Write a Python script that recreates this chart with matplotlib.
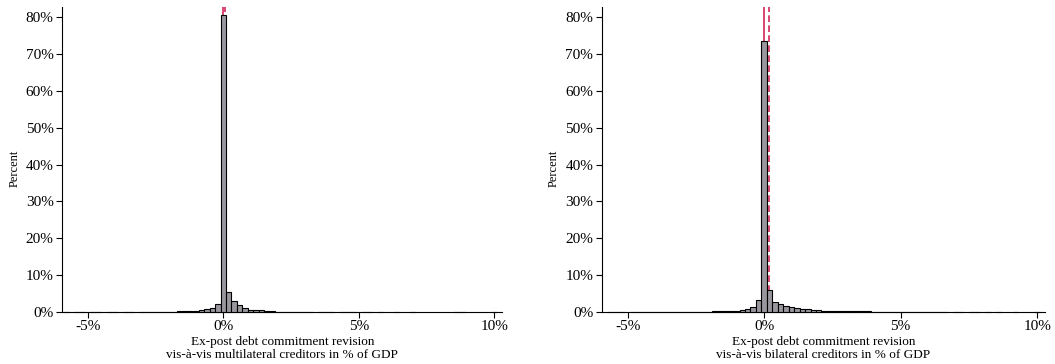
import numpy as np
import matplotlib
matplotlib.use('Agg')
import matplotlib.pyplot as plt
from matplotlib.ticker import FuncFormatter

plt.rcParams['font.family'] = ['Liberation Serif', 'DejaVu Serif']

# histogram bins: width 0.2 pp of GDP, centred on -5.8 ... 10.2
bin_width = 0.2
first_center = -5.8

# share of observations (%) per bin, multilateral creditors
multi_pct = [
    0.1, 0.0, 0.1, 0.1, 0.0, 0.1, 0.1, 0.0, 0.1, 0.1,          # -5.8 .. -4.0
    0.0, 0.1, 0.1, 0.0, 0.1, 0.1, 0.1, 0.1, 0.1, 0.1,          # -3.8 .. -2.0
    0.12, 0.14, 0.16, 0.2, 0.3, 0.45, 0.7, 1.2, 2.3,           # -1.8 .. -0.2
    80.5,                                                      # 0.0
    5.4, 3.0, 1.9, 1.0, 0.6, 0.45, 0.5, 0.3, 0.15, 0.12,       # 0.2 .. 2.0
    0.1, 0.1, 0.1, 0.1, 0.1, 0.1, 0.0, 0.1, 0.1, 0.1,          # 2.2 .. 4.0
    0.0, 0.1, 0.1, 0.1, 0.0, 0.1, 0.1, 0.0, 0.1, 0.0,          # 4.2 .. 6.0
    0.0, 0.1, 0.0, 0.0, 0.1, 0.0, 0.0, 0.0, 0.0, 0.0,          # 6.2 .. 8.0
    0.0, 0.0, 0.1, 0.1, 0.0, 0.0, 0.0, 0.0, 0.0, 0.1,          # 8.2 .. 10.0
    0.0,                                                       # 10.2
]

# share of observations (%) per bin, bilateral creditors
bi_pct = [
    0.0, 0.1, 0.1, 0.1, 0.0, 0.1, 0.1, 0.1, 0.1, 0.1,          # -5.8 .. -4.0
    0.1, 0.1, 0.1, 0.1, 0.1, 0.1, 0.1, 0.1, 0.1, 0.12,         # -3.8 .. -2.0
    0.14, 0.16, 0.2, 0.3, 0.4, 0.6, 0.9, 1.4, 3.2,             # -1.8 .. -0.2
    73.5,                                                      # 0.0
    5.9, 2.8, 2.1, 1.7, 1.3, 1.0, 0.8, 0.7, 0.6, 0.5,          # 0.2 .. 2.0
    0.4, 0.3, 0.25, 0.2, 0.18, 0.15, 0.15, 0.2, 0.14, 0.12,    # 2.2 .. 4.0
    0.12, 0.1, 0.1, 0.1, 0.1, 0.1, 0.1, 0.1, 0.1, 0.1,         # 4.2 .. 6.0
    0.1, 0.1, 0.1, 0.0, 0.1, 0.1, 0.0, 0.1, 0.1, 0.0,          # 6.2 .. 8.0
    0.1, 0.0, 0.1, 0.0, 0.0, 0.1, 0.0, 0.0, 0.0, 0.1,          # 8.2 .. 10.0
    0.0,                                                       # 10.2
]

# reference lines (median solid, mean dashed), % of GDP
multi_median, multi_mean = 0.0, 0.05
bi_median, bi_mean = 0.0, 0.17

xlabels = ['Ex-post debt commitment revision\nvis-à-vis multilateral creditors in % of GDP',
           'Ex-post debt commitment revision\nvis-à-vis bilateral creditors in % of GDP']

fig = plt.figure(figsize=(10.55, 3.64), dpi=100)
ax1 = fig.add_axes([0.0588, 0.1429, 0.4175, 0.838])
ax2 = fig.add_axes([0.5703, 0.1429, 0.4206, 0.838])

pct_fmt = FuncFormatter(lambda v, p: f'{v:.0f}%')
red = '#d2285a'

for ax, heights, med, mean, lab in [(ax1, multi_pct, multi_median, multi_mean, xlabels[0]),
                                    (ax2, bi_pct, bi_median, bi_mean, xlabels[1])]:
    heights = np.array(heights)
    centers = first_center + bin_width * np.arange(len(heights))
    keep = heights > 0
    ax.axvline(med, color=red, lw=1.2, zorder=1)
    ax.axvline(mean, color=red, lw=1.2, ls=(0, (4, 2)), zorder=1)
    ax.bar(centers[keep], heights[keep], width=bin_width, color='#99979d',
           edgecolor='black', linewidth=0.8, zorder=3, clip_on=False)
    ax.set_xlim(-5.95, 10.3)
    ax.set_ylim(0, 82.8)
    ax.set_xticks([-5, 0, 5, 10])
    ax.set_yticks(np.arange(0, 81, 10))
    ax.xaxis.set_major_formatter(pct_fmt)
    ax.yaxis.set_major_formatter(pct_fmt)
    ax.spines['top'].set_visible(False)
    ax.spines['right'].set_visible(False)
    ax.tick_params(labelsize=11, length=4, width=0.8, pad=2)
    ax.set_ylabel('Percent', fontsize=9)
    ax.yaxis.set_label_coords(-0.095, 0.47)
    ax.set_xlabel(lab, fontsize=9.5, labelpad=2, linespacing=1.05)

fig.savefig('out.png', dpi=100)
